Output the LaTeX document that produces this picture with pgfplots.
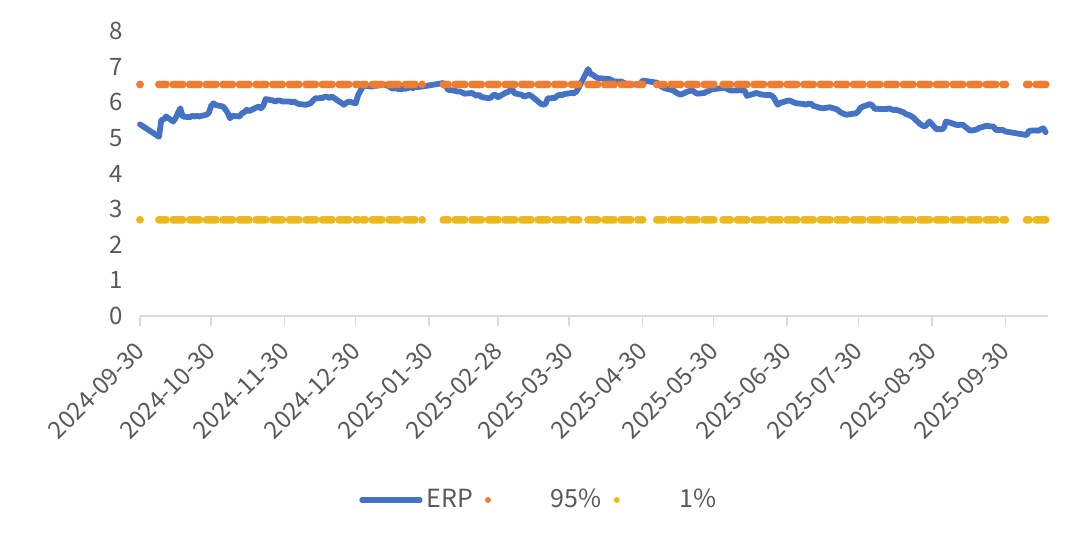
\documentclass[border=0pt]{standalone}
\usepackage{fontspec}
\setmainfont{Noto Sans CJK SC}
\usepackage{pgfplots}
\usepackage{pgfplotstable}
\pgfplotsset{compat=1.18}
\definecolor{erp}{HTML}{4472C4}
\definecolor{c95}{HTML}{ED7D31}
\definecolor{c1}{HTML}{EBB91E}
\definecolor{tgray}{HTML}{595959}
\definecolor{agray}{HTML}{D9D9D9}

% ERP: day index from 2024-09-30, value
\pgfplotstableread{
d erp
0 5.38
8 5.03
9 5.50
10 5.52
11 5.60
14 5.46
15 5.55
16 5.70
17 5.83
18 5.60
21 5.58
22 5.62
23 5.60
24 5.62
25 5.60
28 5.65
29 5.70
30 5.90
31 5.97
32 5.92
35 5.88
36 5.80
37 5.70
38 5.55
39 5.62
42 5.60
43 5.69
44 5.72
45 5.79
46 5.75
49 5.85
50 5.88
51 5.83
52 5.90
53 6.09
56 6.05
57 6.02
58 6.05
59 6.05
60 6.02
63 6.02
64 6.00
65 6.02
66 5.98
67 5.95
70 5.93
71 5.95
72 5.97
73 6.05
74 6.11
77 6.12
78 6.16
79 6.15
80 6.12
81 6.16
84 6.02
85 5.98
86 5.93
87 5.98
88 6.02
91 5.97
92 6.20
94 6.44
95 6.46
98 6.44
99 6.47
100 6.46
101 6.49
102 6.52
105 6.45
106 6.40
107 6.38
108 6.40
109 6.37
112 6.38
113 6.40
114 6.42
115 6.40
116 6.42
119 6.44
128 6.54
129 6.45
130 6.35
133 6.32
134 6.30
135 6.30
136 6.27
137 6.24
140 6.26
141 6.22
142 6.18
143 6.21
144 6.15
147 6.11
148 6.13
149 6.20
150 6.21
151 6.14
154 6.26
155 6.28
156 6.33
157 6.37
158 6.25
161 6.21
162 6.16
163 6.18
164 6.21
165 6.18
168 6.02
169 5.96
170 5.93
171 5.95
172 6.11
175 6.12
176 6.18
177 6.21
178 6.20
179 6.23
182 6.26
183 6.25
184 6.30
185 6.40
189 6.93
190 6.80
191 6.77
192 6.72
193 6.68
196 6.66
197 6.66
198 6.65
199 6.62
200 6.58
203 6.58
204 6.55
205 6.52
206 6.52
207 6.50
210 6.50
211 6.49
212 6.61
218 6.55
219 6.50
220 6.44
221 6.40
224 6.35
225 6.33
226 6.28
227 6.24
228 6.21
231 6.30
232 6.32
233 6.33
234 6.28
235 6.24
238 6.26
239 6.30
240 6.32
241 6.36
242 6.37
246 6.40
247 6.40
248 6.36
249 6.33
252 6.33
253 6.34
254 6.33
255 6.33
256 6.18
259 6.24
260 6.26
261 6.24
262 6.22
263 6.21
266 6.20
267 6.16
268 6.05
269 5.93
270 5.98
273 6.04
274 6.05
275 6.02
276 5.99
277 5.97
280 5.95
281 5.93
282 5.96
283 5.96
284 5.90
287 5.84
288 5.83
289 5.84
290 5.85
291 5.86
294 5.80
295 5.74
296 5.70
297 5.67
298 5.65
301 5.68
302 5.69
303 5.75
304 5.85
305 5.88
308 5.95
309 5.90
310 5.81
311 5.82
312 5.81
315 5.81
316 5.83
317 5.80
318 5.78
319 5.79
322 5.72
323 5.67
324 5.65
325 5.62
326 5.58
329 5.39
330 5.35
331 5.32
332 5.38
333 5.46
336 5.24
337 5.25
338 5.24
339 5.27
340 5.46
343 5.40
344 5.37
345 5.36
346 5.37
347 5.37
350 5.21
351 5.21
352 5.22
353 5.24
354 5.28
357 5.34
358 5.33
359 5.32
360 5.32
361 5.22
364 5.22
365 5.18
374 5.08
375 5.20
378 5.21
379 5.20
380 5.24
381 5.27
382 5.16
}\erptab

% 95% and 1% levels on each trading day
\pgfplotstableread[row sep=\\]{
d a b\\
0 6.5 2.7\\
8 6.5 2.7\\ 9 6.5 2.7\\ 10 6.5 2.7\\ 11 6.5 2.7\\
14 6.5 2.7\\ 15 6.5 2.7\\ 16 6.5 2.7\\ 17 6.5 2.7\\ 18 6.5 2.7\\
21 6.5 2.7\\ 22 6.5 2.7\\ 23 6.5 2.7\\ 24 6.5 2.7\\ 25 6.5 2.7\\
28 6.5 2.7\\ 29 6.5 2.7\\ 30 6.5 2.7\\ 31 6.5 2.7\\ 32 6.5 2.7\\
35 6.5 2.7\\ 36 6.5 2.7\\ 37 6.5 2.7\\ 38 6.5 2.7\\ 39 6.5 2.7\\
42 6.5 2.7\\ 43 6.5 2.7\\ 44 6.5 2.7\\ 45 6.5 2.7\\ 46 6.5 2.7\\
49 6.5 2.7\\ 50 6.5 2.7\\ 51 6.5 2.7\\ 52 6.5 2.7\\ 53 6.5 2.7\\
56 6.5 2.7\\ 57 6.5 2.7\\ 58 6.5 2.7\\ 59 6.5 2.7\\ 60 6.5 2.7\\
63 6.5 2.7\\ 64 6.5 2.7\\ 65 6.5 2.7\\ 66 6.5 2.7\\ 67 6.5 2.7\\
70 6.5 2.7\\ 71 6.5 2.7\\ 72 6.5 2.7\\ 73 6.5 2.7\\ 74 6.5 2.7\\
77 6.5 2.7\\ 78 6.5 2.7\\ 79 6.5 2.7\\ 80 6.5 2.7\\ 81 6.5 2.7\\
84 6.5 2.7\\ 85 6.5 2.7\\ 86 6.5 2.7\\ 87 6.5 2.7\\ 88 6.5 2.7\\
91 6.5 2.7\\ 92 6.5 2.7\\ 94 6.5 2.7\\ 95 6.5 2.7\\
98 6.5 2.7\\ 99 6.5 2.7\\ 100 6.5 2.7\\ 101 6.5 2.7\\ 102 6.5 2.7\\
105 6.5 2.7\\ 106 6.5 2.7\\ 107 6.5 2.7\\ 108 6.5 2.7\\ 109 6.5 2.7\\
112 6.5 2.7\\ 113 6.5 2.7\\ 114 6.5 2.7\\ 115 6.5 2.7\\ 116 6.5 2.7\\
119 6.5 2.7\\
128 6.5 2.7\\ 129 6.5 2.7\\ 130 6.5 2.7\\
133 6.5 2.7\\ 134 6.5 2.7\\ 135 6.5 2.7\\ 136 6.5 2.7\\ 137 6.5 2.7\\
140 6.5 2.7\\ 141 6.5 2.7\\ 142 6.5 2.7\\ 143 6.5 2.7\\ 144 6.5 2.7\\
147 6.5 2.7\\ 148 6.5 2.7\\ 149 6.5 2.7\\ 150 6.5 2.7\\ 151 6.5 2.7\\
154 6.5 2.7\\ 155 6.5 2.7\\ 156 6.5 2.7\\ 157 6.5 2.7\\ 158 6.5 2.7\\
161 6.5 2.7\\ 162 6.5 2.7\\ 163 6.5 2.7\\ 164 6.5 2.7\\ 165 6.5 2.7\\
168 6.5 2.7\\ 169 6.5 2.7\\ 170 6.5 2.7\\ 171 6.5 2.7\\ 172 6.5 2.7\\
175 6.5 2.7\\ 176 6.5 2.7\\ 177 6.5 2.7\\ 178 6.5 2.7\\ 179 6.5 2.7\\
182 6.5 2.7\\ 183 6.5 2.7\\ 184 6.5 2.7\\ 185 6.5 2.7\\
189 6.5 2.7\\ 190 6.5 2.7\\ 191 6.5 2.7\\ 192 6.5 2.7\\ 193 6.5 2.7\\
196 6.5 2.7\\ 197 6.5 2.7\\ 198 6.5 2.7\\ 199 6.5 2.7\\ 200 6.5 2.7\\
203 6.5 2.7\\ 204 6.5 2.7\\ 205 6.5 2.7\\ 206 6.5 2.7\\ 207 6.5 2.7\\
210 6.5 2.7\\ 211 6.5 2.7\\ 212 6.5 2.7\\
218 6.5 2.7\\ 219 6.5 2.7\\ 220 6.5 2.7\\ 221 6.5 2.7\\
224 6.5 2.7\\ 225 6.5 2.7\\ 226 6.5 2.7\\ 227 6.5 2.7\\ 228 6.5 2.7\\
231 6.5 2.7\\ 232 6.5 2.7\\ 233 6.5 2.7\\ 234 6.5 2.7\\ 235 6.5 2.7\\
238 6.5 2.7\\ 239 6.5 2.7\\ 240 6.5 2.7\\ 241 6.5 2.7\\ 242 6.5 2.7\\
246 6.5 2.7\\ 247 6.5 2.7\\ 248 6.5 2.7\\ 249 6.5 2.7\\
252 6.5 2.7\\ 253 6.5 2.7\\ 254 6.5 2.7\\ 255 6.5 2.7\\ 256 6.5 2.7\\
259 6.5 2.7\\ 260 6.5 2.7\\ 261 6.5 2.7\\ 262 6.5 2.7\\ 263 6.5 2.7\\
266 6.5 2.7\\ 267 6.5 2.7\\ 268 6.5 2.7\\ 269 6.5 2.7\\ 270 6.5 2.7\\
273 6.5 2.7\\ 274 6.5 2.7\\ 275 6.5 2.7\\ 276 6.5 2.7\\ 277 6.5 2.7\\
280 6.5 2.7\\ 281 6.5 2.7\\ 282 6.5 2.7\\ 283 6.5 2.7\\ 284 6.5 2.7\\
287 6.5 2.7\\ 288 6.5 2.7\\ 289 6.5 2.7\\ 290 6.5 2.7\\ 291 6.5 2.7\\
294 6.5 2.7\\ 295 6.5 2.7\\ 296 6.5 2.7\\ 297 6.5 2.7\\ 298 6.5 2.7\\
301 6.5 2.7\\ 302 6.5 2.7\\ 303 6.5 2.7\\ 304 6.5 2.7\\ 305 6.5 2.7\\
308 6.5 2.7\\ 309 6.5 2.7\\ 310 6.5 2.7\\ 311 6.5 2.7\\ 312 6.5 2.7\\
315 6.5 2.7\\ 316 6.5 2.7\\ 317 6.5 2.7\\ 318 6.5 2.7\\ 319 6.5 2.7\\
322 6.5 2.7\\ 323 6.5 2.7\\ 324 6.5 2.7\\ 325 6.5 2.7\\ 326 6.5 2.7\\
329 6.5 2.7\\ 330 6.5 2.7\\ 331 6.5 2.7\\ 332 6.5 2.7\\ 333 6.5 2.7\\
336 6.5 2.7\\ 337 6.5 2.7\\ 338 6.5 2.7\\ 339 6.5 2.7\\ 340 6.5 2.7\\
343 6.5 2.7\\ 344 6.5 2.7\\ 345 6.5 2.7\\ 346 6.5 2.7\\ 347 6.5 2.7\\
350 6.5 2.7\\ 351 6.5 2.7\\ 352 6.5 2.7\\ 353 6.5 2.7\\ 354 6.5 2.7\\
357 6.5 2.7\\ 358 6.5 2.7\\ 359 6.5 2.7\\ 360 6.5 2.7\\ 361 6.5 2.7\\
364 6.5 2.7\\ 365 6.5 2.7\\
374 6.5 2.7\\ 375 6.5 2.7\\
378 6.5 2.7\\ 379 6.5 2.7\\ 380 6.5 2.7\\ 381 6.5 2.7\\ 382 6.5 2.7\\
}\lvtab

\begin{document}
\begin{tikzpicture}
\path[use as bounding box] (-70pt,-114pt) rectangle (470pt,158pt);
\begin{axis}[
  at={(0pt,0pt)}, anchor=south west,
  scale only axis, width=454pt, height=142.5pt,
  xmin=0, xmax=383, ymin=0, ymax=8,
  separate axis lines,
  axis x line*=bottom, axis y line*=left,
  x axis line style={draw=agray, line width=0.75pt, -},
  y axis line style={draw=none},
  xtick={0,30,61,91,122,151,181,212,242,273,303,334,365},
  xticklabels={2024-09-30,2024-10-30,2024-11-30,2024-12-30,2025-01-30,2025-02-28,2025-03-30,2025-04-30,2025-05-30,2025-06-30,2025-07-30,2025-08-30,2025-09-30},
  xtick style={draw=agray, line width=0.75pt},
  tick align=outside, major tick length=5pt,
  xticklabel style={xshift=2.5pt, yshift=-8pt, rotate=45, anchor=east, font=\fontsize{12}{14}\selectfont, text=tgray},
  ytick={0,1,...,8},
  ytick style={draw=none},
  yticklabel style={font=\fontsize{12}{14}\selectfont, text=tgray},
  /pgf/number format/assume math mode=true,
  legend style={at={(0.4405,-0.6456)}, anchor=center, draw=none, fill=none,
    font=\fontsize{12.5}{14}\selectfont, text=tgray, legend columns=3,
    /tikz/every even column/.append style={column sep=4pt}},
  legend cell align=left,
  clip=false,
]
\addplot[erp, line width=2.9pt, line join=round, line cap=round,
  legend image code/.code={\draw[erp, line width=2.6pt, line cap=round] (0pt,0pt) -- (29pt,0pt);}]
  table[x=d, y=erp]{\erptab};
\addlegendentry{ERP}
\addplot[only marks, mark=*, mark size=1.75pt, color=c95, mark options={draw=none, fill=c95},
  legend image code/.code={\fill[c95, draw=none] (1.5pt,0pt) circle (1.5pt); \path[draw=none, fill=none] (0pt,-0.1pt) rectangle (31pt,0.1pt);}]
  table[x=d, y=a]{\lvtab};
\addlegendentry{95\%}
\addplot[only marks, mark=*, mark size=1.75pt, color=c1, mark options={draw=none, fill=c1},
  legend image code/.code={\fill[c1, draw=none] (1.5pt,0pt) circle (1.5pt); \path[draw=none, fill=none] (0pt,-0.1pt) rectangle (31pt,0.1pt);}]
  table[x=d, y=b]{\lvtab};
\addlegendentry{1\%}
\end{axis}
\end{tikzpicture}
\end{document}
